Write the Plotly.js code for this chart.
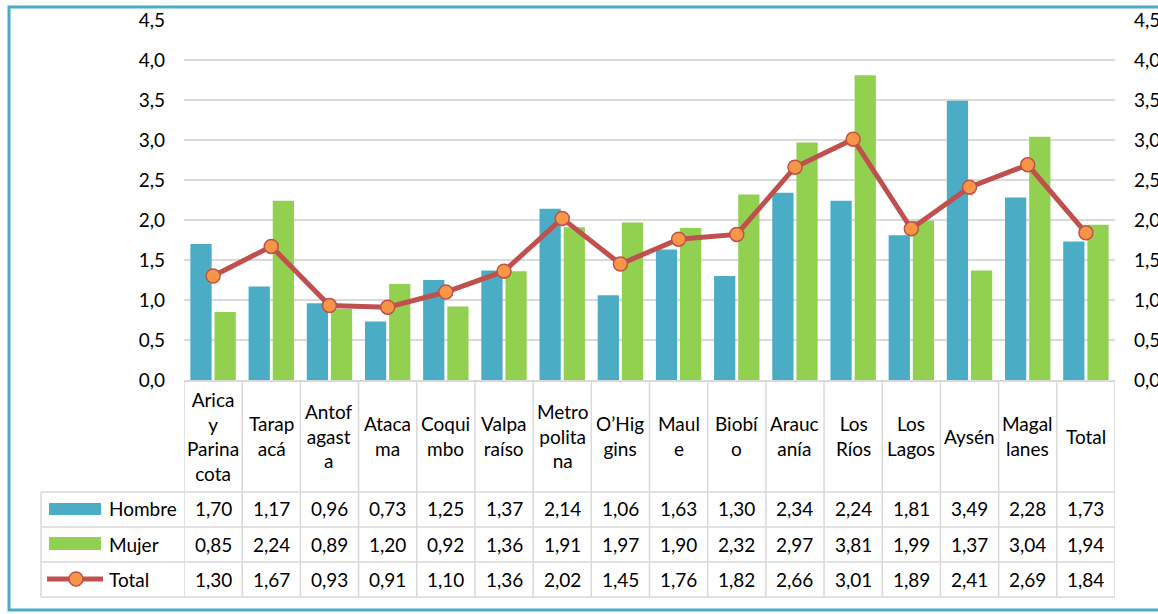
<!DOCTYPE html>
<html><head><meta charset="utf-8">
<script src="https://cdn.plot.ly/plotly-3.0.1.min.js"></script>
<style>html,body{margin:0;padding:0;background:#fff;}#chart{width:1158px;height:614px;}</style>
</head><body><div id="chart"></div>
<script>
const regions = ["Arica y Parinacota","Tarapacá","Antofagasta","Atacama","Coquimbo","Valparaíso","Metropolitana","O’Higgins","Maule","Biobío","Araucanía","Los Ríos","Los Lagos","Aysén","Magallanes","Total"];
const headerLabels = ["Arica<br>y<br>Parina<br>cota","Tarap<br>acá","Antof<br>agast<br>a","Ataca<br>ma","Coqui<br>mbo","Valpa<br>raíso","Metro<br>polita<br>na","O’Hig<br>gins","Maul<br>e","Biobí<br>o","Arauc<br>anía","Los<br>Ríos","Los<br>Lagos","Aysén","Magal<br>lanes","Total"];
const hombre = [1.70,1.17,0.96,0.73,1.25,1.37,2.14,1.06,1.63,1.30,2.34,2.24,1.81,3.49,2.28,1.73];
const mujer  = [0.85,2.24,0.89,1.20,0.92,1.36,1.91,1.97,1.90,2.32,2.97,3.81,1.99,1.37,3.04,1.94];
const total  = [1.30,1.67,0.93,0.91,1.10,1.36,2.02,1.45,1.76,1.82,2.66,3.01,1.89,2.41,2.69,1.84];
const seriesNames = ["Hombre","Mujer","Total"];
const yTicks = [0,0.5,1,1.5,2,2.5,3,3.5,4,4.5];

const C_H = "#4bacc6", C_M = "#92d050", C_T = "#c0504d", C_MK = "#f79646";
const FONT = "Lato, 'Noto Sans', sans-serif";
const GRID = "#d9d9d9";
const fmt = v => v.toFixed(2).replace('.', ',');

const traces = [
  {type:'bar', name:seriesNames[0], x:regions, y:hombre, marker:{color:C_H}, hoverinfo:'none'},
  {type:'bar', name:seriesNames[1], x:regions, y:mujer, marker:{color:C_M}, hoverinfo:'none'},
  {type:'scatter', mode:'lines+markers', name:seriesNames[2], x:regions, y:total, yaxis:'y2',
   line:{color:C_T, width:5}, marker:{size:14, color:C_MK, line:{color:C_T, width:1.5}}, hoverinfo:'none'}
];

// table geometry (paper coordinates)
const rowTop = [0, -0.3111, -0.4083, -0.5056, -0.6028];
const rowCenters = [-0.3583, -0.4556, -0.5528];
const legX0 = -0.1536;
const shapes = [];
const annotations = [];

for (let i = 0; i <= regions.length; i++) {
  shapes.push({type:'line', xref:'x', yref:'paper', x0:i-0.5, x1:i-0.5, y0:0, y1:rowTop[4], line:{color:GRID, width:1.5}});
}
shapes.push({type:'line', xref:'paper', yref:'paper', x0:legX0, x1:legX0, y0:rowTop[1], y1:rowTop[4], line:{color:GRID, width:1.5}});
for (let r = 1; r < rowTop.length; r++) {
  shapes.push({type:'line', xref:'paper', yref:'paper', x0:legX0, x1:1, y0:rowTop[r], y1:rowTop[r], line:{color:GRID, width:1.5}});
}
shapes.push({type:'rect', xref:'paper', yref:'paper', x0:-0.1450, x1:-0.0892, y0:-0.3417, y1:-0.375, fillcolor:C_H, line:{width:0}});
shapes.push({type:'rect', xref:'paper', yref:'paper', x0:-0.1450, x1:-0.0892, y0:-0.4361, y1:-0.4722, fillcolor:C_M, line:{width:0}});
shapes.push({type:'line', xref:'paper', yref:'paper', x0:-0.1471, x1:-0.0870, y0:-0.5528, y1:-0.5528, line:{color:C_T, width:5}});
shapes.push({type:'circle', xref:'paper', yref:'paper', x0:-0.1235, x1:-0.1085, y0:-0.5333, y1:-0.5722, fillcolor:C_MK, line:{color:C_T, width:1.5}});
shapes.push({type:'rect', xref:'paper', yref:'paper', x0:(9-184)/931, x1:(1170-184)/931, y0:(380-7)/360, y1:(380-610)/360, line:{color:"#4bacc6", width:3}, fillcolor:'rgba(0,0,0,0)', layer:'below'});

regions.forEach((r, i) => {
  annotations.push({xref:'x', yref:'paper', x:i, y:-0.1556, text:headerLabels[i], showarrow:false, xanchor:'center', yanchor:'middle', font:{family:FONT, size:19, color:'#000'}});
});
[hombre, mujer, total].forEach((arr, k) => {
  arr.forEach((v, i) => {
    annotations.push({xref:'x', yref:'paper', x:i, y:rowCenters[k], text:fmt(v), showarrow:false, xanchor:'center', yanchor:'middle', font:{family:FONT, size:19, color:'#000'}});
  });
  annotations.push({xref:'paper', yref:'paper', x:-0.0827, y:rowCenters[k], text:seriesNames[k], showarrow:false, xanchor:'left', yanchor:'middle', font:{family:FONT, size:19, color:'#000'}});
});

const yax = {range:[0,4.5], tickvals:yTicks, tickformat:'.1f', showgrid:true, gridcolor:GRID, gridwidth:1.5, zeroline:false, showline:false, ticks:'', ticklabelstandoff:18, automargin:false, tickfont:{family:FONT, size:19, color:'#000'}, fixedrange:true};

const layout = {
  width:1158, height:614,
  margin:{l:184, r:43, t:20, b:234, pad:0},
  paper_bgcolor:'#fff', plot_bgcolor:'#fff',
  separators:',.',
  showlegend:false,
  barmode:'group', bargap:0.17, bargroupgap:0.12,
  xaxis:{type:'category', range:[-0.5, regions.length-0.5], autorange:false, automargin:false, showticklabels:false, ticks:'', showgrid:false, showline:true, linecolor:GRID, linewidth:1.5, fixedrange:true},
  yaxis:yax,
  yaxis2:Object.assign({}, yax, {overlaying:'y', side:'right', showgrid:false}),
  shapes:shapes,
  annotations:annotations
};
Plotly.newPlot('chart', traces, layout, {displayModeBar:false, staticPlot:true});
</script></body></html>
